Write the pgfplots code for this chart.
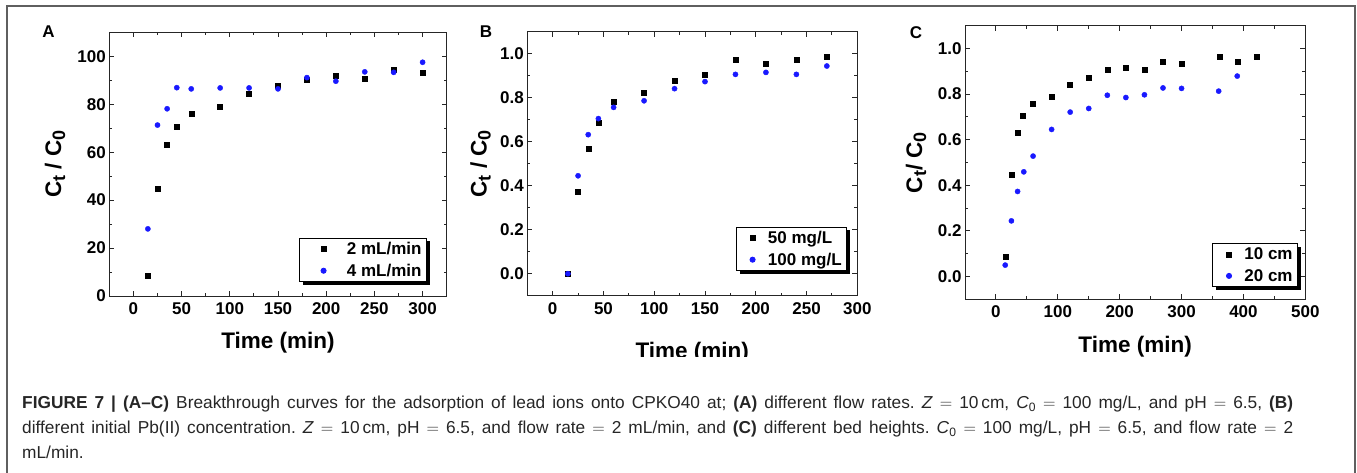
\documentclass[border=0pt]{standalone}
\usepackage{fontspec}
\setmainfont{Liberation Sans}
\usepackage{pgfplots}
\pgfplotsset{compat=1.18}
\usetikzlibrary{shadows}

\definecolor{framegray}{RGB}{95,95,95}
\definecolor{ptblue}{RGB}{25,25,255}
\newcommand{\fs}[1]{\fontsize{#1}{#1}\selectfont}
\newcommand{\lsub}[1]{\raisebox{-4pt}{\fs{18}#1}}

\pgfplotsset{
  panel/.style={
    scale only axis, anchor=south west,
    axis line style={black!85, line width=1pt},
    tick pos=both, tick align=inside,
    minor x tick num=1, minor y tick num=1,
    major tick length=5pt, minor tick length=3pt,
    every tick/.style={black!85, line width=0.9pt},
    tick label style={font=\fs{17}\bfseries},
    xticklabel style={yshift=-3pt},
    /pgf/number format/assume math mode=true,
    label style={font=\fs{22.5}\bfseries},
    legend style={font=\fs{17}\bfseries, draw=black, line width=0.8pt, fill=white,
      drop shadow={shadow xshift=3.5pt, shadow yshift=-3.5pt, fill=black, opacity=1},
      anchor=south east, row sep=4pt},
    legend cell align=left,
    legend image code/.code={\path (0pt,0pt) (26pt,0pt); \draw[##1] plot coordinates {(13pt,0pt)};},
  },
  onedec/.style={yticklabel style={/pgf/number format/.cd, fixed, fixed zerofill, precision=1}},
  sq/.style={only marks, mark=square*, mark size=2.5pt, black},
  dot/.style={only marks, mark=*, mark size=2.6pt, ptblue, mark options={draw=ptblue, fill=ptblue}},
}

\begin{document}
\frenchspacing
\begin{tikzpicture}
\useasboundingbox (0pt,0pt) rectangle (1357pt,472pt);
\draw[framegray, line width=1.3pt] (7pt,-1pt) -- (7pt,466pt) -- (1355pt,466pt) -- (1355pt,-1pt);

% (A) flow rates
\begin{axis}[panel, at={(109.3pt,176pt)}, width=337.4pt, height=263.7pt,
  xmin=-25, xmax=325, ymin=0, ymax=110,
  xtick={0,50,...,300}, ytick={0,20,...,100},
  xlabel={Time (min)}, ylabel={C\lsub{t} / C\lsub{0}},
  xlabel style={at={(axis description cs:0.5,-0.198)}, anchor=base},
  ylabel style={at={(axis description cs:-0.143,0.5)}, anchor=base},
  legend image code/.code={\path (0pt,0pt) (42pt,0pt); \draw[#1] plot coordinates {(21pt,0pt)};},
  legend style={at={(0.9416,0.053)}}]
\addplot[sq] coordinates {(15,8.5) (25,44.6) (35,63.1) (45,70.6) (60,75.9) (90,79.0)
  (120,84.3) (150,87.6) (180,90.4) (210,91.8) (240,90.8) (270,94.6) (300,93.0)};
\addlegendentry{2 mL/min}
\addplot[dot] coordinates {(15,28.0) (25,71.3) (35,78.1) (45,86.9) (60,86.4) (90,86.8)
  (120,86.8) (150,86.4) (180,91.1) (210,89.6) (240,93.5) (270,93.3) (300,97.5)};
\addlegendentry{4 mL/min}
\end{axis}

% (B) initial concentration
\begin{axis}[panel, onedec, at={(527.3pt,176.3pt)}, width=330pt, height=264pt,
  xmin=-25, xmax=300, ymin=-0.1, ymax=1.1,
  xtick={0,50,...,300}, ytick={0,0.2,...,1.0},
  xlabel={Time (min)}, ylabel={C\lsub{t} / C\lsub{0}},
  xlabel style={at={(axis description cs:0.5,-0.238)}, anchor=base},
  ylabel style={at={(axis description cs:-0.123,0.5)}, anchor=base},
  legend style={at={(0.969,0.0936)}}]
\addplot[sq] coordinates {(15,0.0) (25,0.371) (35,0.570) (45,0.685) (60,0.780) (90,0.824)
  (120,0.876) (150,0.906) (180,0.973) (210,0.955) (240,0.973) (270,0.988)};
\addlegendentry{50 mg/L}
\addplot[dot] coordinates {(15,0.0) (25,0.445) (35,0.632) (45,0.705) (60,0.756) (90,0.786)
  (120,0.841) (150,0.873) (180,0.906) (210,0.915) (240,0.906) (270,0.944)};
\addlegendentry{100 mg/L}
\end{axis}
\fill[white] (600pt,100pt) rectangle (790pt,115.5pt);

% (C) bed heights
\begin{axis}[panel, onedec, at={(965pt,172.7pt)}, width=340.3pt, height=273.6pt,
  xmin=-50, xmax=500, ymin=-0.1, ymax=1.1,
  xtick={0,100,...,500}, ytick={0,0.2,...,1.0},
  xlabel={Time (min)}, ylabel={C\lsub{t}/ C\lsub{0}},
  xlabel style={at={(axis description cs:0.5,-0.195)}, anchor=base},
  ylabel style={at={(axis description cs:-0.126,0.5)}, anchor=base},
  legend style={at={(0.9786,0.045)}}]
\addplot[sq] coordinates {(15,0.085) (25,0.446) (35,0.632) (44,0.706) (60,0.756) (90,0.788)
  (120,0.841) (150,0.873) (180,0.906) (210,0.915) (240,0.906) (270,0.942) (300,0.934)
  (361,0.965) (390,0.940) (421,0.965)};
\addlegendentry{10 cm}
\addplot[dot] coordinates {(15,0.050) (25,0.244) (35,0.373) (45,0.459) (60,0.528) (90,0.645)
  (120,0.721) (150,0.737) (180,0.795) (210,0.785) (240,0.797) (270,0.827) (300,0.825)
  (360,0.813) (390,0.879)};
\addlegendentry{20 cm}
\end{axis}

\node[font=\fs{17}\bfseries] at (48.5pt,440pt) {A};
\node[font=\fs{17}\bfseries] at (486pt,440pt) {B};
\node[font=\fs{17}\bfseries] at (916pt,439.5pt) {C};

% caption
\begin{scope}[every node/.style={anchor=base west, inner sep=0pt, font=\fs{17.3}, color=black!85}]
\node at (22pt,63.5pt) {\makebox[1271pt][s]{\textbf{FIGURE 7 | (A–C)} Breakthrough curves for the adsorption of lead ions onto CPKO40 at; \textbf{(A)} different flow rates. \textit{Z} $=$ 10\,cm, \textit{C}\textsubscript{0} $=$ 100 mg/L, and pH $=$ 6.5, \textbf{(B)}}};
\node at (22pt,38.5pt) {\makebox[1271pt][s]{different initial Pb(II) concentration. \textit{Z} $=$ 10\,cm, pH $=$ 6.5, and flow rate $=$ 2 mL/min, and \textbf{(C)} different bed heights. \textit{C}\textsubscript{0} $=$ 100 mg/L, pH $=$ 6.5, and flow rate $=$ 2}};
\node at (22pt,13.5pt) {mL/min.};
\end{scope}
\end{tikzpicture}
\end{document}
